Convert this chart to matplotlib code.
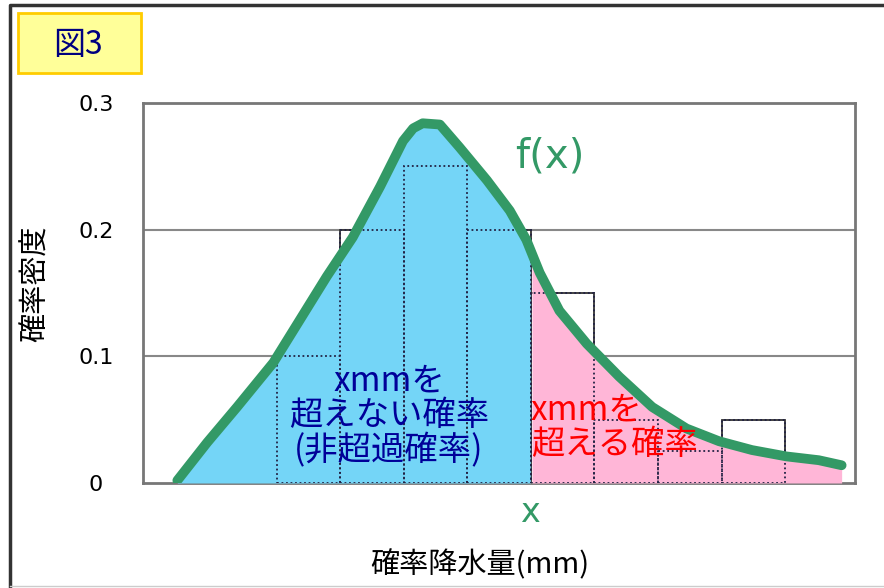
import matplotlib.pyplot as plt
import numpy as np
from matplotlib.patches import Rectangle
from matplotlib.lines import Line2D

plt.rcParams['font.family'] = ['Noto Sans CJK JP', 'DejaVu Sans']

# histogram (bin edges in bin-width units) and density values
bin_edges = [0, 1, 2, 3, 4, 5, 6, 7, 8, 9, 10, 11]
bin_heights = [0.0, 0.0, 0.1, 0.2, 0.25, 0.2, 0.15, 0.05, 0.025, 0.05, 0.0]

# fitted density curve f(x)
curve_x = [0.44, 0.91, 1.38, 1.95, 2.37, 2.79, 3.20, 3.63, 3.99, 4.15, 4.30,
           4.57, 4.88, 5.31, 5.67, 5.93, 6.14, 6.45, 6.88, 7.39, 7.91, 8.45,
           8.96, 9.48, 10.02, 10.53, 10.89]
curve_y = [0.002, 0.032, 0.060, 0.095, 0.129, 0.163, 0.194, 0.234, 0.270,
           0.280, 0.284, 0.283, 0.265, 0.239, 0.215, 0.192, 0.166, 0.136,
           0.110, 0.084, 0.060, 0.043, 0.033, 0.026, 0.021, 0.018, 0.014]
x_split = 6.0

yticks = [0, 0.1, 0.2, 0.3]
ytick_labels = ["0", "0.1", "0.2", "0.3"]

green = "#339966"

fig = plt.figure(figsize=(8.84, 5.88), dpi=100)
ax = fig.add_axes([143 / 884, 1 - 483 / 588, 712 / 884, 380 / 588])

# bars, solid outline (visible above the curve)
widths = np.diff(bin_edges)
for left, w, h in zip(bin_edges[:-1], widths, bin_heights):
    if h > 0:
        ax.add_patch(Rectangle((left, 0), w, h, facecolor="white",
                               edgecolor="#333333", linewidth=1.3, zorder=2))

# shaded areas under the curve
cx = np.array(curve_x)
cy = np.array(curve_y)
xs = np.linspace(cx[0], cx[-1], 400)
ys = np.interp(xs, cx, cy)
ax.fill_between(xs, 0, ys, where=xs <= x_split, color="#74d5f7", zorder=3,
                linewidth=0)
ax.fill_between(xs, 0, ys, where=xs >= x_split, color="#ffb6d7", zorder=3,
                linewidth=0)

# bars seen through the fill as dotted outlines
for left, w, h in zip(bin_edges[:-1], widths, bin_heights):
    if h > 0:
        ax.add_patch(Rectangle((left, 0), w, h, fill=False,
                               edgecolor="#222244", linewidth=1.3,
                               linestyle=(0, (1, 1.5)), zorder=4))

ax.plot(cx, cy, color=green, linewidth=7, solid_capstyle="round",
        solid_joinstyle="round", zorder=5)

ax.set_xlim(-0.1, 11.1)
ax.set_ylim(0, 0.3)
ax.set_yticks(yticks)
ax.set_yticklabels(ytick_labels, family="DejaVu Sans", fontsize=16)
ax.set_xticks([])
ax.tick_params(axis="y", length=0, pad=34)
for t in ax.get_yticklabels():
    t.set_horizontalalignment("center")
for y in [0.1, 0.2]:
    ax.axhline(y, color="#888888", linewidth=1.5, zorder=1)
for s in ax.spines.values():
    s.set_color("#777777")
    s.set_linewidth(2)

ax.text(5.75, 0.258, "f(x)", color=green, fontsize=29, family="DejaVu Sans",
        ha="left", va="center", zorder=6)
ax.text(3.77, 0.053, "xmmを\n超えない確率\n(非超過確率)", color="#000099",
        fontsize=24, ha="center", va="center", linespacing=1.0, zorder=6)
ax.text(6.0, 0.044, "xmmを\n超える確率", color="#ff0000",
        fontsize=24, ha="left", va="center", linespacing=1.0, zorder=6)

# text outside axes
fig.text(530 / 884, 1 - 512 / 588, "x", color=green, fontsize=24,
         family="DejaVu Sans", ha="center", va="center")
fig.text(480 / 884, 1 - 565 / 588, "確率降水量(mm)", fontsize=21,
         ha="center", va="center")
fig.text(36 / 884, 1 - 284 / 588, "確率密度", fontsize=21, rotation=90,
         ha="center", va="center")

# title box
fig.patches.append(Rectangle((18 / 884, 1 - 73 / 588), 123 / 884, 60 / 588,
                             transform=fig.transFigure, facecolor="#ffff99",
                             edgecolor="#ffcc00", linewidth=2))
fig.text(78 / 884, 1 - 45 / 588, "図3", color="#000080", fontsize=23,
         ha="center", va="center")

# outer frame
fig.lines.append(Line2D([10 / 884, 10 / 884, 1], [1 - 586 / 588, 1 - 5 / 588, 1 - 5 / 588],
                        transform=fig.transFigure, color="#333333", linewidth=2.5))
fig.lines.append(Line2D([10 / 884, 1], [1 - 586 / 588, 1 - 586 / 588],
                        transform=fig.transFigure, color="#cccccc", linewidth=1))

fig.savefig("out.png", dpi=100)
